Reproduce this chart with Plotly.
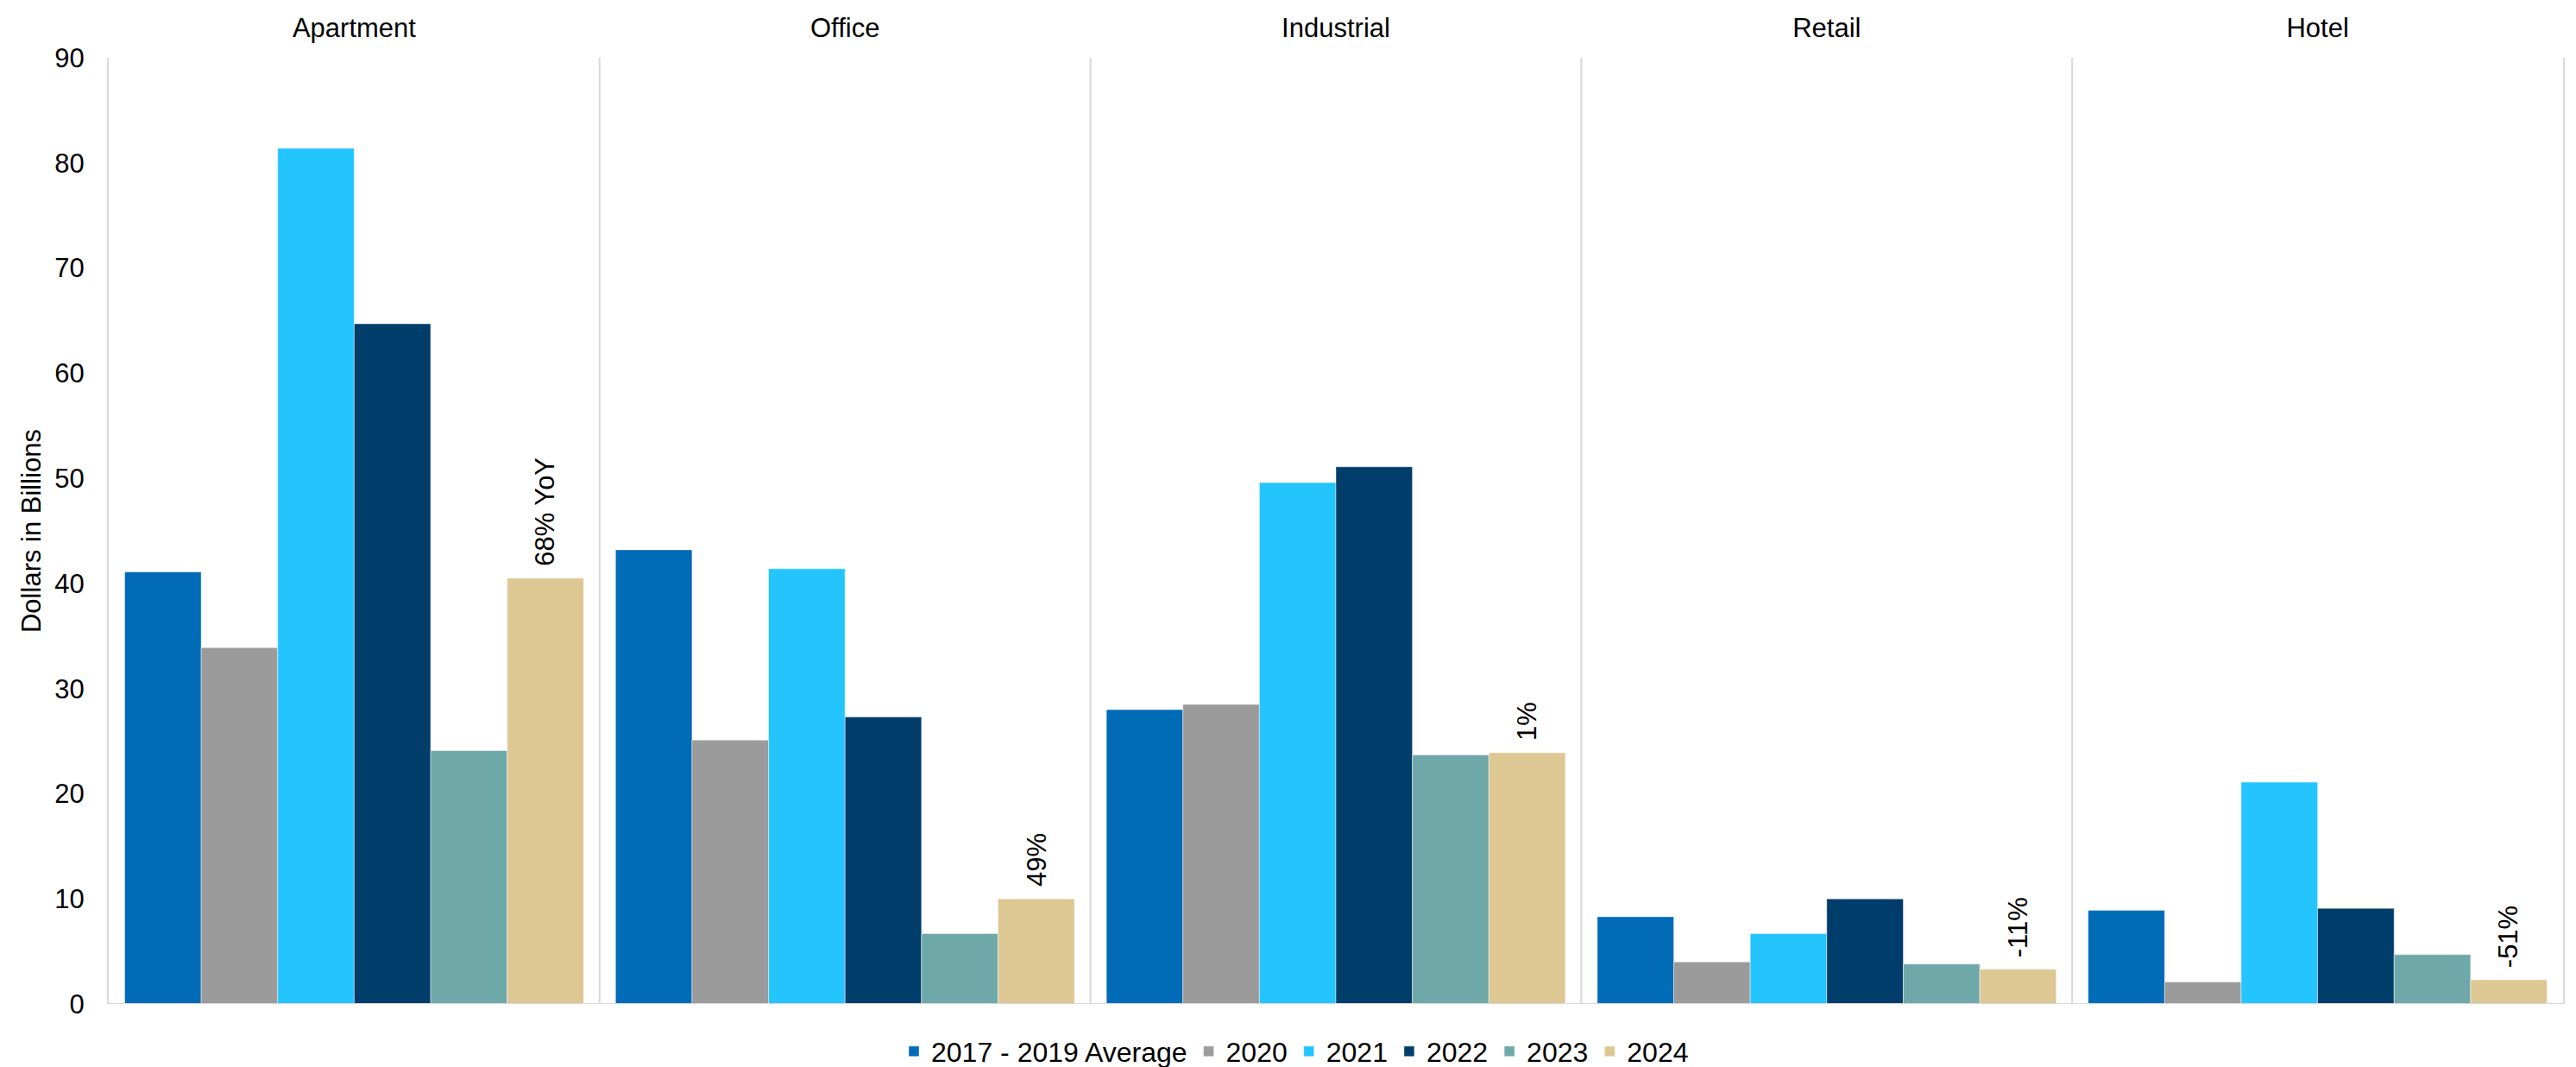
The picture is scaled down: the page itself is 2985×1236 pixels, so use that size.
import plotly.graph_objects as go

categories = ["Apartment", "Office", "Industrial", "Retail", "Hotel"]
series_names = ["2017 - 2019 Average", "2020", "2021", "2022", "2023", "2024"]
avg_2017_2019 = [41.1, 43.2, 28.0, 8.3, 8.9]
v2020 = [33.9, 25.1, 28.5, 4.0, 2.1]
v2021 = [81.4, 41.4, 49.6, 6.7, 21.1]
v2022 = [64.7, 27.3, 51.1, 10.0, 9.1]
v2023 = [24.1, 6.7, 23.7, 3.8, 4.7]
v2024 = [40.5, 10.0, 23.9, 3.3, 2.3]
yoy_labels = ["68% YoY", "49%", "1%", "-11%", "-51%"]
colors = ["#006BB6", "#9B9B9B", "#24C4FF", "#003D6A", "#6FA8A9", "#DDC793"]
y_ticks = [0, 10, 20, 30, 40, 50, 60, 70, 80, 90]

values = [avg_2017_2019, v2020, v2021, v2022, v2023, v2024]
FONT = "Liberation Sans, Arial, sans-serif"
FS = 31
BARGAP = 0.065

fig = go.Figure()
for name, vals, col in zip(series_names, values, colors):
    fig.add_trace(go.Bar(
        x=categories, y=vals, name=name,
        marker=dict(color=col, line=dict(color="rgba(255,255,255,0.45)", width=1)),
        hoverinfo="skip"))

# label above the last series' bar in each category (position follows the group layout)
n = len(series_names)
bar_w = (1 - BARGAP) / n
last_offset = (n - 1 - (n - 1) / 2) * bar_w
annotations = []
for k, (lab, val) in enumerate(zip(yoy_labels, v2024)):
    annotations.append(dict(x=k + last_offset, y=val, xref="x", yref="y",
                            text=lab, textangle=-90, showarrow=False,
                            xanchor="center", yanchor="bottom", yshift=12,
                            font=dict(family=FONT, size=FS, color="#000000")))

shapes = []
for k in range(len(categories) - 1):
    shapes.append(dict(type="line", xref="x", yref="y", x0=k + 0.5, x1=k + 0.5,
                       y0=0, y1=90, line=dict(color="#D9D9D9", width=2), layer="below"))
shapes.append(dict(type="line", xref="paper", yref="y", x0=0, x1=1, y0=0, y1=0,
                   line=dict(color="#D9D9D9", width=2), layer="above"))

fig.update_layout(
    width=2985, height=1236,
    margin=dict(l=118, r=23, t=59, b=81),
    paper_bgcolor="white", plot_bgcolor="white",
    barmode="group", bargap=BARGAP, bargroupgap=0,
    font=dict(family=FONT, size=FS, color="#000000"),
    showlegend=True,
    legend=dict(orientation="h", xref="container", yref="container",
                x=0.5, xanchor="center", y=0.021, yanchor="middle",
                font=dict(family=FONT, size=32), itemwidth=30,
                traceorder="normal"),
    shapes=shapes,
    annotations=annotations,
    xaxis=dict(side="top", showgrid=False, showline=False, ticks="",
               ticklabelstandoff=17, tickfont=dict(family=FONT, size=FS),
               range=[-0.5, 4.5], automargin=False),
    yaxis=dict(range=[0, 90], tickvals=y_ticks, showgrid=False, zeroline=False,
               showline=True, linecolor="#D9D9D9", linewidth=2, mirror=True,
               ticks="", ticklabelstandoff=20, automargin=False,
               tickfont=dict(family=FONT, size=FS),
               title=dict(text="Dollars in Billions", standoff=6,
                          font=dict(family=FONT, size=FS))),
)

fig.write_html("out.html")
